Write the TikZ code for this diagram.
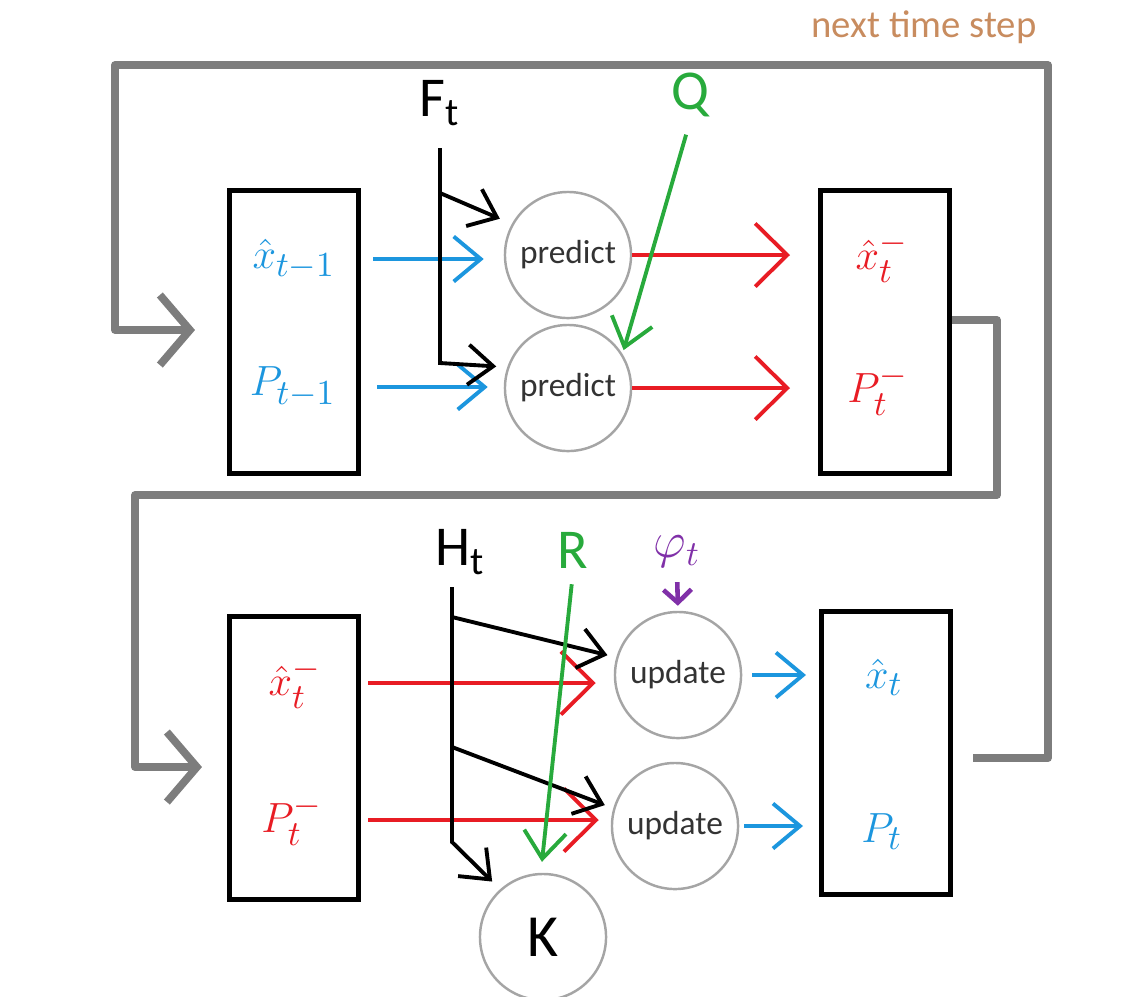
\documentclass[tikz,border=0pt]{standalone}
\usepackage{fontspec}
\setmainfont{Carlito}
\usepackage{tikz}
\usetikzlibrary{arrows.meta, positioning, calc}
\newcommand{\lowidx}[1]{\mbox{\fontsize{10}{10}\selectfont$#1$}}
\definecolor{kfblue}{RGB}{28,150,222}
\definecolor{kfred}{RGB}{232,28,36}
\definecolor{kfgreen}{RGB}{40,170,60}
\definecolor{kfpurple}{RGB}{128,48,168}
\definecolor{kfgray}{RGB}{125,125,125}
\definecolor{kfcircle}{RGB}{165,165,165}
\definecolor{kfbrown}{RGB}{200,140,95}
\tikzset{
  %% ---- boxes ----
  statebox/.style = {rectangle, draw=black, line width=1.4pt,
                   minimum width=1.29cm, minimum height=2.83cm, inner sep=0pt},
  opnode/.style   = {circle, draw=kfcircle, line width=0.7pt,
                   minimum size=1.26cm, inner sep=0pt,
                   font=\fontsize{9.5}{11}\selectfont, text=black!80},
  mathlbl/.style  = {inner sep=1pt, font=\fontsize{13}{15}\selectfont, text=#1},
  biglbl/.style   = {inner sep=1pt, font=\fontsize{16}{18}\selectfont, text=#1},
  %% ---- arrows ----
  redarr/.style   = {-{Straight Barb[length=3.2mm, width=6.3mm]}, line width=1.1pt, color=kfred},
  bluearr/.style  = {-{Straight Barb[length=2.7mm, width=4.5mm]}, line width=1.1pt, color=kfblue},
  blackarr/.style = {-{Straight Barb[length=2.5mm, width=4mm]}, line width=1.1pt, color=black},
  greenarr/.style = {-{Straight Barb[length=2.7mm, width=4.2mm]}, line width=1.1pt, color=kfgreen},
  purplearr/.style= {-{Straight Barb[length=1.3mm, width=2.8mm]}, line width=1.3pt, color=kfpurple},
  grayarr/.style  = {-{Straight Barb[length=3mm, width=7mm]}, line width=2.2pt,
                   color=kfgray, line join=round},
}
\begin{document}
\begin{tikzpicture}[x=0.01cm, y=-0.01cm]
\useasboundingbox (0,0) rectangle (1140,996);
%% state boxes
\node[statebox] (prevbox)  at (294,332) {};
\node[statebox] (priorbox) at (885,332) {};
\node[statebox] (inbox)    at (294,758) {};
\node[statebox] (postbox)  at (886,753) {};
\node[mathlbl=kfblue] (xprev)  at (294,259) {$\hat{x}_{\lowidx{t{-}1}}$};
\node[mathlbl=kfblue] (Pprev)  at (293,387) {$P_{\lowidx{t{-}1}}$};
\node[mathlbl=kfred]  (xprior) at (882,257) {$\hat{x}_{\lowidx{t}}^{\lowidx{-}}$};
\node[mathlbl=kfred]  (Pprior) at (878,390) {$P_{\lowidx{t}}^{\lowidx{-}}$};
\node[mathlbl=kfred]  (xin)    at (295,683) {$\hat{x}_{\lowidx{t}}^{\lowidx{-}}$};
\node[mathlbl=kfred]  (Pin)    at (292,820) {$P_{\lowidx{t}}^{\lowidx{-}}$};
\node[mathlbl=kfblue] (xpost)  at (884,677) {$\hat{x}_{\lowidx{t}}$};
\node[mathlbl=kfblue] (Ppost)  at (882,832) {$P_{\lowidx{t}}$};
%% operations
\node[opnode] (predx) at (568,255) {predict};
\node[opnode] (predP) at (568,388) {predict};
\node[opnode] (updx)  at (678,675) {update};
\node[opnode] (updP)  at (675,826) {update};
\node[opnode, font=\fontsize{17}{19}\selectfont, text=black] (gain) at (543,937) {K};
%% inputs
\node[biglbl=black]   (Ft)  at (440,103) {F\textsubscript{t}};
\node[biglbl=kfgreen] (Q)   at (690,95)  {Q};
\node[biglbl=black]   (Ht)  at (460,552) {H\textsubscript{t}};
\node[biglbl=kfgreen] (R)   at (573,550) {R};
\node[inner sep=1pt, font=\fontsize{15}{17}\selectfont, text=kfpurple] (phi) at (677,552) {$\varphi_{\lowidx{t}}$};
\node[font=\fontsize{11}{13}\selectfont, text=kfbrown] (next) at (924,27) {next time step};
\coordinate (fTop)    at (440,148);
\coordinate (fSplit)  at (440,193);
\coordinate (fEnd)    at (440,363);
\coordinate (hTop)    at (452,587);
\coordinate (hSplitA) at (452,617);
\coordinate (hSplitB) at (452,747);
\coordinate (hEnd)    at (452,842);
\coordinate (loopR)   at (1048,65);
\coordinate (loopL)   at (115,65);
\coordinate (loopB)   at (997,495);
\coordinate (loopC)   at (135,495);
%% predict step
\draw[bluearr, shorten <=1.2mm, shorten >=2mm] (prevbox.east |- xprev) -- (predx.west |- xprev);
\draw[bluearr, shorten <=1.6mm, shorten >=1.6mm] (prevbox.east |- Pprev) -- (predP.west |- Pprev);
\draw[redarr, shorten >=2.8mm] (predx.east) -- (priorbox.west |- predx.east);
\draw[redarr, shorten >=2.8mm] (predP.east) -- (priorbox.west |- predP.east);
\draw[blackarr, shorten >=1.3mm] (fSplit) -- (predx.151);
\draw[blackarr, shorten >=1.1mm] (fTop) -- (fEnd) -- (predP.161);
\draw[greenarr, shorten <=1.4mm, shorten >=0.4mm] (Q.south) -- (predP.32);
%% update step
\draw[redarr, shorten <=0.7mm, shorten >=1.8mm] (inbox.east |- xin) -- (updx.west |- xin);
\draw[redarr, shorten <=0.7mm, shorten >=1.2mm] (inbox.east |- Pin) -- (updP.west |- Pin);
\draw[blackarr, shorten >=0.9mm] (hSplitA) -- (updx.164);
\draw[blackarr, shorten >=0.9mm] (hSplitB) -- (updP.164);
\draw[blackarr, shorten >=1.1mm] (hTop) -- (hEnd) -- (gain.132);
\draw[greenarr, shorten <=1.2mm, shorten >=1.1mm] (R.south) -- (gain.92);
\draw[purplearr, shorten <=1mm, shorten >=0.5mm] (phi.south) -- (updx.north);
\draw[bluearr, shorten <=1mm, shorten >=1.3mm] (updx.east) -- (postbox.west |- updx.east);
\draw[bluearr, shorten <=0.5mm, shorten >=1.6mm] (updP.east) -- (postbox.west |- updP.east);
%% feedback loops
\draw[grayarr, shorten <=2mm, shorten >=3.2mm]
  ([yshift=-0.5mm]postbox.east) -| (loopR) -- (loopL) |- ([yshift=0.2mm]prevbox.west);
\draw[grayarr, shorten >=2.5mm]
  ([yshift=1.2mm]priorbox.east) -| (loopB) -- (loopC) |- ([yshift=-0.9mm]inbox.west);
\end{tikzpicture}
\end{document}
